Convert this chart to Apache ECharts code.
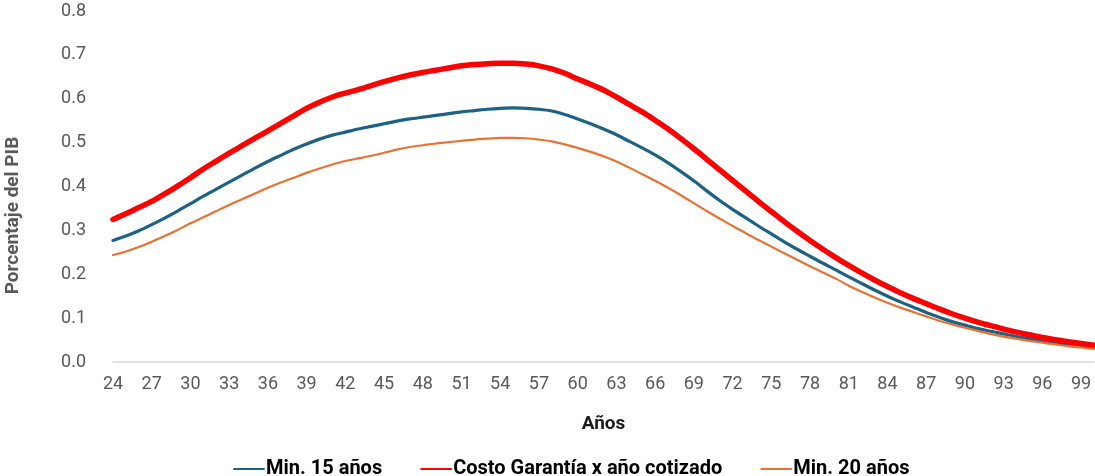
<!DOCTYPE html>
<html>
<head>
<meta charset="utf-8">
<script src="https://cdn.jsdelivr.net/npm/echarts@6/dist/echarts.min.js"></script>
<style>
  html, body { margin: 0; padding: 0; background: #fff; }
  #chart { width: 1095px; height: 476px; }
</style>
</head>
<body>
<div id="chart"></div>
<script>
// edades 24..100
var edades = [];
for (var e = 24; e <= 100; e++) edades.push(String(e));

var min15 = [
  0.277, 0.287, 0.299, 0.313, 0.328, 0.344, 0.361, 0.378, 0.394, 0.410,
  0.426, 0.442, 0.457, 0.471, 0.485, 0.497, 0.508, 0.517, 0.524, 0.531,
  0.537, 0.543, 0.549, 0.554, 0.558, 0.562, 0.566, 0.570, 0.573, 0.576,
  0.578, 0.579, 0.578, 0.576, 0.572, 0.564, 0.554, 0.543, 0.531, 0.518,
  0.503, 0.488, 0.472, 0.454, 0.434, 0.413, 0.390, 0.368, 0.348, 0.329,
  0.310, 0.292, 0.274, 0.257, 0.241, 0.225, 0.210, 0.194, 0.179, 0.164,
  0.150, 0.137, 0.125, 0.113, 0.102, 0.092, 0.084, 0.076, 0.070, 0.064,
  0.058, 0.053, 0.048, 0.044, 0.040, 0.037, 0.034
];

var costoGarantia = [
  0.325, 0.338, 0.352, 0.366, 0.383, 0.401, 0.420, 0.440, 0.458, 0.476,
  0.493, 0.510, 0.527, 0.544, 0.561, 0.578, 0.592, 0.604, 0.613, 0.621,
  0.630, 0.639, 0.647, 0.654, 0.660, 0.665, 0.670, 0.675, 0.678, 0.680,
  0.681, 0.681, 0.679, 0.675, 0.668, 0.658, 0.645, 0.633, 0.620, 0.604,
  0.587, 0.570, 0.551, 0.531, 0.509, 0.486, 0.462, 0.438, 0.414, 0.390,
  0.366, 0.343, 0.320, 0.298, 0.277, 0.257, 0.238, 0.220, 0.203, 0.187,
  0.172, 0.158, 0.145, 0.133, 0.121, 0.110, 0.100, 0.091, 0.083, 0.075,
  0.068, 0.062, 0.056, 0.051, 0.046, 0.042, 0.038
];

var min20 = [
  0.244, 0.252, 0.262, 0.274, 0.287, 0.301, 0.316, 0.330, 0.344, 0.358,
  0.371, 0.384, 0.397, 0.409, 0.420, 0.431, 0.441, 0.450, 0.458, 0.464,
  0.470, 0.477, 0.484, 0.490, 0.494, 0.498, 0.501, 0.504, 0.507, 0.509,
  0.511, 0.511, 0.510, 0.507, 0.503, 0.496, 0.488, 0.479, 0.469, 0.457,
  0.443, 0.428, 0.413, 0.397, 0.380, 0.362, 0.344, 0.327, 0.310, 0.294,
  0.278, 0.263, 0.248, 0.233, 0.218, 0.204, 0.190, 0.174, 0.160, 0.147,
  0.135, 0.124, 0.114, 0.104, 0.094, 0.086, 0.078, 0.071, 0.064, 0.058,
  0.053, 0.048, 0.044, 0.040, 0.036, 0.033, 0.030
];

var chart = echarts.init(document.getElementById('chart'));

var option = {
  animation: false,
  textStyle: { fontFamily: 'Roboto' },
  grid: { left: 113, right: 1, top: 11, bottom: 114, outerBoundsMode: 'none' },
  legend: {
    top: 454,
    left: 228,
    itemWidth: 30,
    itemHeight: 6,
    itemGap: 38,
    itemStyle: { opacity: 0 },
    textStyle: { color: '#000', fontSize: 20, fontWeight: 'bold', padding: [0, 0, 0, -3] },
    data: ['Min. 15 años', 'Costo Garantía x año cotizado', 'Min. 20 años']
  },
  xAxis: {
    type: 'category',
    boundaryGap: false,
    data: edades,
    name: 'Años',
    nameLocation: 'middle',
    nameGap: 53,
    nameTextStyle: { color: '#1a1a1a', fontSize: 19, fontWeight: 'bold' },
    axisLine: { lineStyle: { color: '#d9d9d9', width: 1.5 } },
    axisTick: { show: false },
    axisLabel: { interval: 2, color: '#595959', fontSize: 18, margin: 13 }
  },
  yAxis: {
    type: 'value',
    min: 0,
    max: 0.8,
    interval: 0.1,
    name: 'Porcentaje del PIB',
    nameLocation: 'middle',
    nameGap: 90,
    nameTextStyle: { color: '#595959', fontSize: 19, fontWeight: 'bold', padding: [0, 58, 0, 0] },
    axisLine: { show: false },
    axisTick: { show: false },
    splitLine: { show: false },
    axisLabel: {
      color: '#595959', fontSize: 18, margin: 27,
      formatter: function (v) { return v.toFixed(1); }
    }
  },
  series: [
    {
      name: 'Min. 15 años',
      type: 'line',
      data: min15,
      symbol: 'none',
      smooth: 0.3,
      lineStyle: { color: '#1b6284', width: 3.2, cap: 'round' },
      itemStyle: { color: '#1b6284' }
    },
    {
      name: 'Costo Garantía x año cotizado',
      type: 'line',
      data: costoGarantia,
      symbol: 'none',
      smooth: 0.3,
      lineStyle: { color: '#ff0000', width: 5.5, cap: 'round' },
      itemStyle: { color: '#ff0000' }
    },
    {
      name: 'Min. 20 años',
      type: 'line',
      data: min20,
      symbol: 'none',
      smooth: 0.3,
      lineStyle: { color: '#e97132', width: 2.2, cap: 'round' },
      itemStyle: { color: '#e97132' }
    }
  ]
};

chart.setOption(option);
</script>
</body>
</html>
